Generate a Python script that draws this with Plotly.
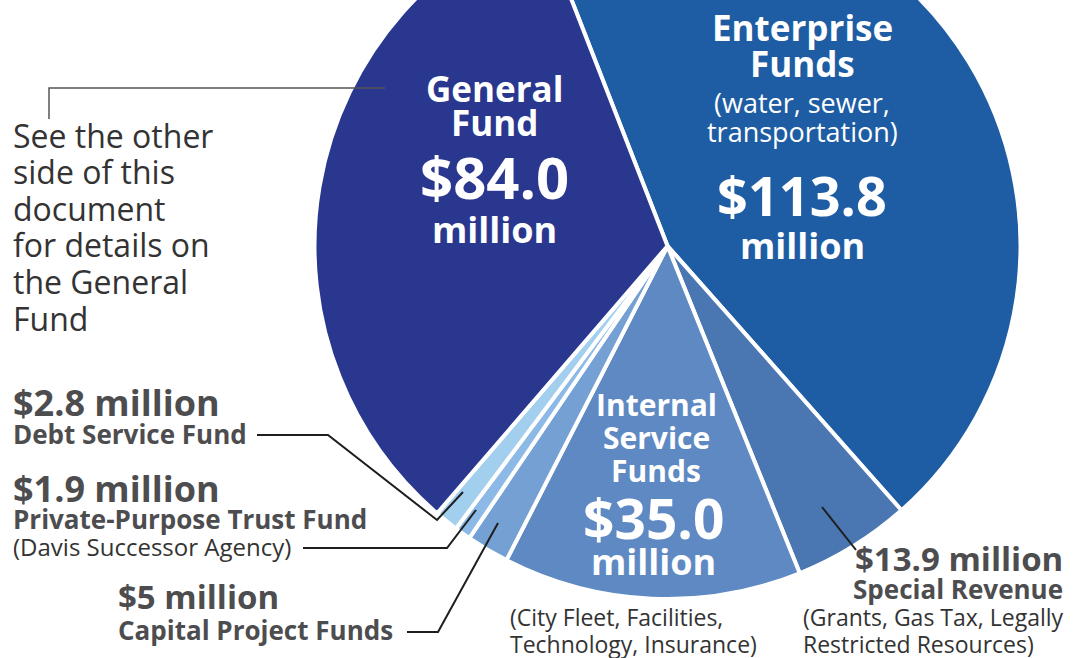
import plotly.graph_objects as go

# ---------------- data ----------------
categories = ["Enterprise Funds", "Special Revenue", "Internal Service Funds",
              "Capital Project Funds", "Private-Purpose Trust Fund",
              "Debt Service Fund", "General Fund"]
values = [113.8, 13.9, 35.0, 5.0, 1.9, 2.8, 84.0]          # $ million
decimals = [1, 1, 1, 0, 1, 1, 1]
colors = ["#1E5DA3", "#4A77B2", "#5E89C3", "#74A0D3", "#8CB9E5", "#A3CFEF", "#29378F"]

money = [f"${v:.{d}f}" for v, d in zip(values, decimals)]
M = dict(zip(categories, money))

# ---------------- geometry helpers ----------------
W, H, S = 1082, 765, 107          # paper size and vertical page shift (pie is cut at top)
FONT = "Open Sans"
GRAY = "#4D4D4F"
DARK = "#333333"


def X(xs):
    return xs / W


def Y(ys):
    return (H - S - ys) / H


fig = go.Figure(go.Pie(
    labels=categories, values=values, sort=False, direction="clockwise",
    rotation=-21.3, textinfo="none", hoverinfo="label+value",
    marker=dict(colors=colors, line=dict(color="white", width=4)),
    domain=dict(x=[X(313.5), X(1021.5)], y=[Y(599), 1.0]),
    showlegend=False,
))

anns = []


def ann(text, xs, ys, size, color, bold=False, xanchor="center"):
    t = f"<b>{text}</b>" if bold else text
    anns.append(dict(text=t, x=X(xs), y=Y(ys), xref="paper", yref="paper",
                     xanchor=xanchor, yanchor="middle", showarrow=False,
                     font=dict(family=FONT, size=size, color=color)))


WH = "white"
# General Fund (inside)
ann("General", 494, 88, 35, WH, True)
ann("Fund", 494, 122, 35, WH, True)
ann(M["General Fund"], 494, 176, 58, WH, True)
ann("million", 494, 229, 36, WH, True)
# Enterprise (inside)
ann("Enterprise", 802, 27, 35, WH, True)
ann("Funds", 802, 63, 35, WH, True)
ann("(water, sewer,", 802, 102, 27, WH)
ann("transportation)", 802, 131, 27, WH)
ann(M["Enterprise Funds"], 802, 195, 54, WH, True)
ann("million", 802, 245, 36, WH, True)
# Internal Service (inside)
ann("Internal", 656, 404, 30, WH, True)
ann("Service", 656, 437, 30, WH, True)
ann("Funds", 656, 470, 30, WH, True)
ann(M["Internal Service Funds"], 653, 517, 55, WH, True)
ann("million", 653, 561, 36, WH, True)
ann("(City Fleet, Facilities,", 508, 617, 23, DARK, xanchor="left")
ann("Technology, Insurance)", 508, 644, 23, DARK, xanchor="left")

# left labels
ann(M["Debt Service Fund"] + " million", 11, 402, 36, GRAY, True, "left")
ann("Debt Service Fund", 11, 434, 26, GRAY, True, "left")
ann(M["Private-Purpose Trust Fund"] + " million", 11, 488, 36, GRAY, True, "left")
ann("Private-Purpose Trust Fund", 11, 519, 26, GRAY, True, "left")
ann("(Davis Successor Agency)", 11, 546, 24, DARK, False, "left")
ann(M["Capital Project Funds"] + " million", 116, 596, 33, GRAY, True, "left")
ann("Capital Project Funds", 116, 630, 26, GRAY, True, "left")

# right labels
ann(M["Special Revenue"] + " million", 1065, 558, 33, GRAY, True, "right")
ann("Special Revenue", 1065, 589, 26, GRAY, True, "right")
ann("(Grants, Gas Tax, Legally", 801, 617, 23, DARK, False, "left")
ann("Restricted Resources)", 801, 644, 23, DARK, False, "left")

# note
note = ["See the other", "side of this", "document", "for details on",
        "the General", "Fund"]
for i, line in enumerate(note):
    ann(line, 11, 135 + i * 36.6, 32, DARK, False, "left")


def path(pts):
    return "M " + " L ".join(f"{X(a):.5f},{Y(b):.5f}" for a, b in pts)


LINE = dict(color="#1E1E1E", width=2)
shapes = [
    dict(type="path", xref="paper", yref="paper", line=LINE,
         path=path([(257, 435), (328, 435), (437, 520), (463, 492)])),
    dict(type="path", xref="paper", yref="paper", line=LINE,
         path=path([(303, 548), (447, 548), (476, 510)])),
    dict(type="path", xref="paper", yref="paper", line=LINE,
         path=path([(407, 632), (438, 632), (498, 523)])),
    dict(type="path", xref="paper", yref="paper", line=LINE,
         path=path([(822, 507), (856, 550)])),
    dict(type="path", xref="paper", yref="paper", line=dict(color="#555555", width=1.5),
         path=path([(385, 88), (49, 88), (49, 119)])),
]

fig.update_layout(
    width=W, height=H, margin=dict(l=0, r=0, t=0, b=0),
    paper_bgcolor="white", plot_bgcolor="white",
    annotations=anns, shapes=shapes,
)

post = ("document.body.style.margin='0';"
        "document.getElementById('{plot_id}').style.transform='translateY(-" + str(S) + "px)';")
fig.write_html("out.html", post_script=post)
